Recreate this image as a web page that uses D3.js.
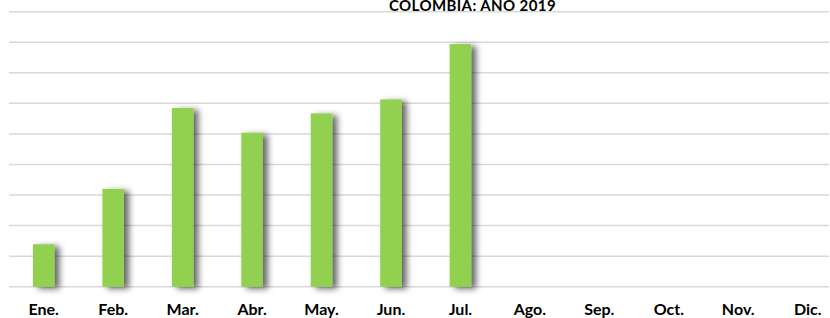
<!DOCTYPE html>
<html><head><meta charset="utf-8">
<script src="https://cdn.jsdelivr.net/npm/d3@7"></script>
<style>html,body{margin:0;padding:0;background:#fff;overflow:hidden}</style>
</head><body>
<svg id="c" width="830" height="318"></svg>
<script>
const title = "COLOMBIA: AÑO 2019";
const months = ["Ene.","Feb.","Mar.","Abr.","May.","Jun.","Jul.","Ago.","Sep.","Oct.","Nov.","Dic."];
const values = [1.39, 3.20, 5.85, 5.04, 5.67, 6.13, 7.94, null, null, null, null, null];
const yTicks = [0,1,2,3,4,5,6,7,8,9];

const svg = d3.select("#c");
const defs = svg.append("defs");
const f = defs.append("filter").attr("id","sh").attr("x","-50%").attr("y","-10%").attr("width","250%").attr("height","130%");
f.append("feDropShadow").attr("dx",5).attr("dy",2).attr("stdDeviation",3).attr("flood-color","#000").attr("flood-opacity",0.6);

const x = d3.scaleBand().domain(months).range([9, 842.4]).paddingInner(0.69).paddingOuter(0.345);
const y = d3.scaleLinear().domain([0,9]).range([286.7, 11.7]);

svg.append("g").selectAll("line").data(yTicks).join("line")
  .attr("x1",9).attr("x2",829)
  .attr("y1",d=>y(d)).attr("y2",d=>y(d))
  .attr("stroke","#d9d9d9").attr("stroke-width",1.5);

svg.append("g").selectAll("rect").data(months.map((m,i)=>({m,v:values[i]})).filter(d=>d.v!=null)).join("rect")
  .attr("x",d=>x(d.m)).attr("width",x.bandwidth())
  .attr("y",d=>y(d.v)).attr("height",d=>y(0)-y(d.v))
  .attr("fill","#92D050").attr("filter","url(#sh)");

const xa = d3.axisBottom(x).tickSize(0).tickPadding(0);
const g = svg.append("g").attr("transform","translate(0,315)").call(xa);
g.select(".domain").remove();
g.selectAll("text").attr("y",0).attr("dy",0).attr("font-family","Lato, sans-serif").attr("font-weight","bold").attr("font-size",16).attr("fill","#000");

svg.append("text").attr("x",472.5).attr("y",10.5).attr("text-anchor","middle")
  .attr("font-family","Lato, sans-serif").attr("font-weight","bold").attr("font-size",15).attr("letter-spacing",0.4).attr("fill","#000")
  .text(title);
</script>
</body></html>
